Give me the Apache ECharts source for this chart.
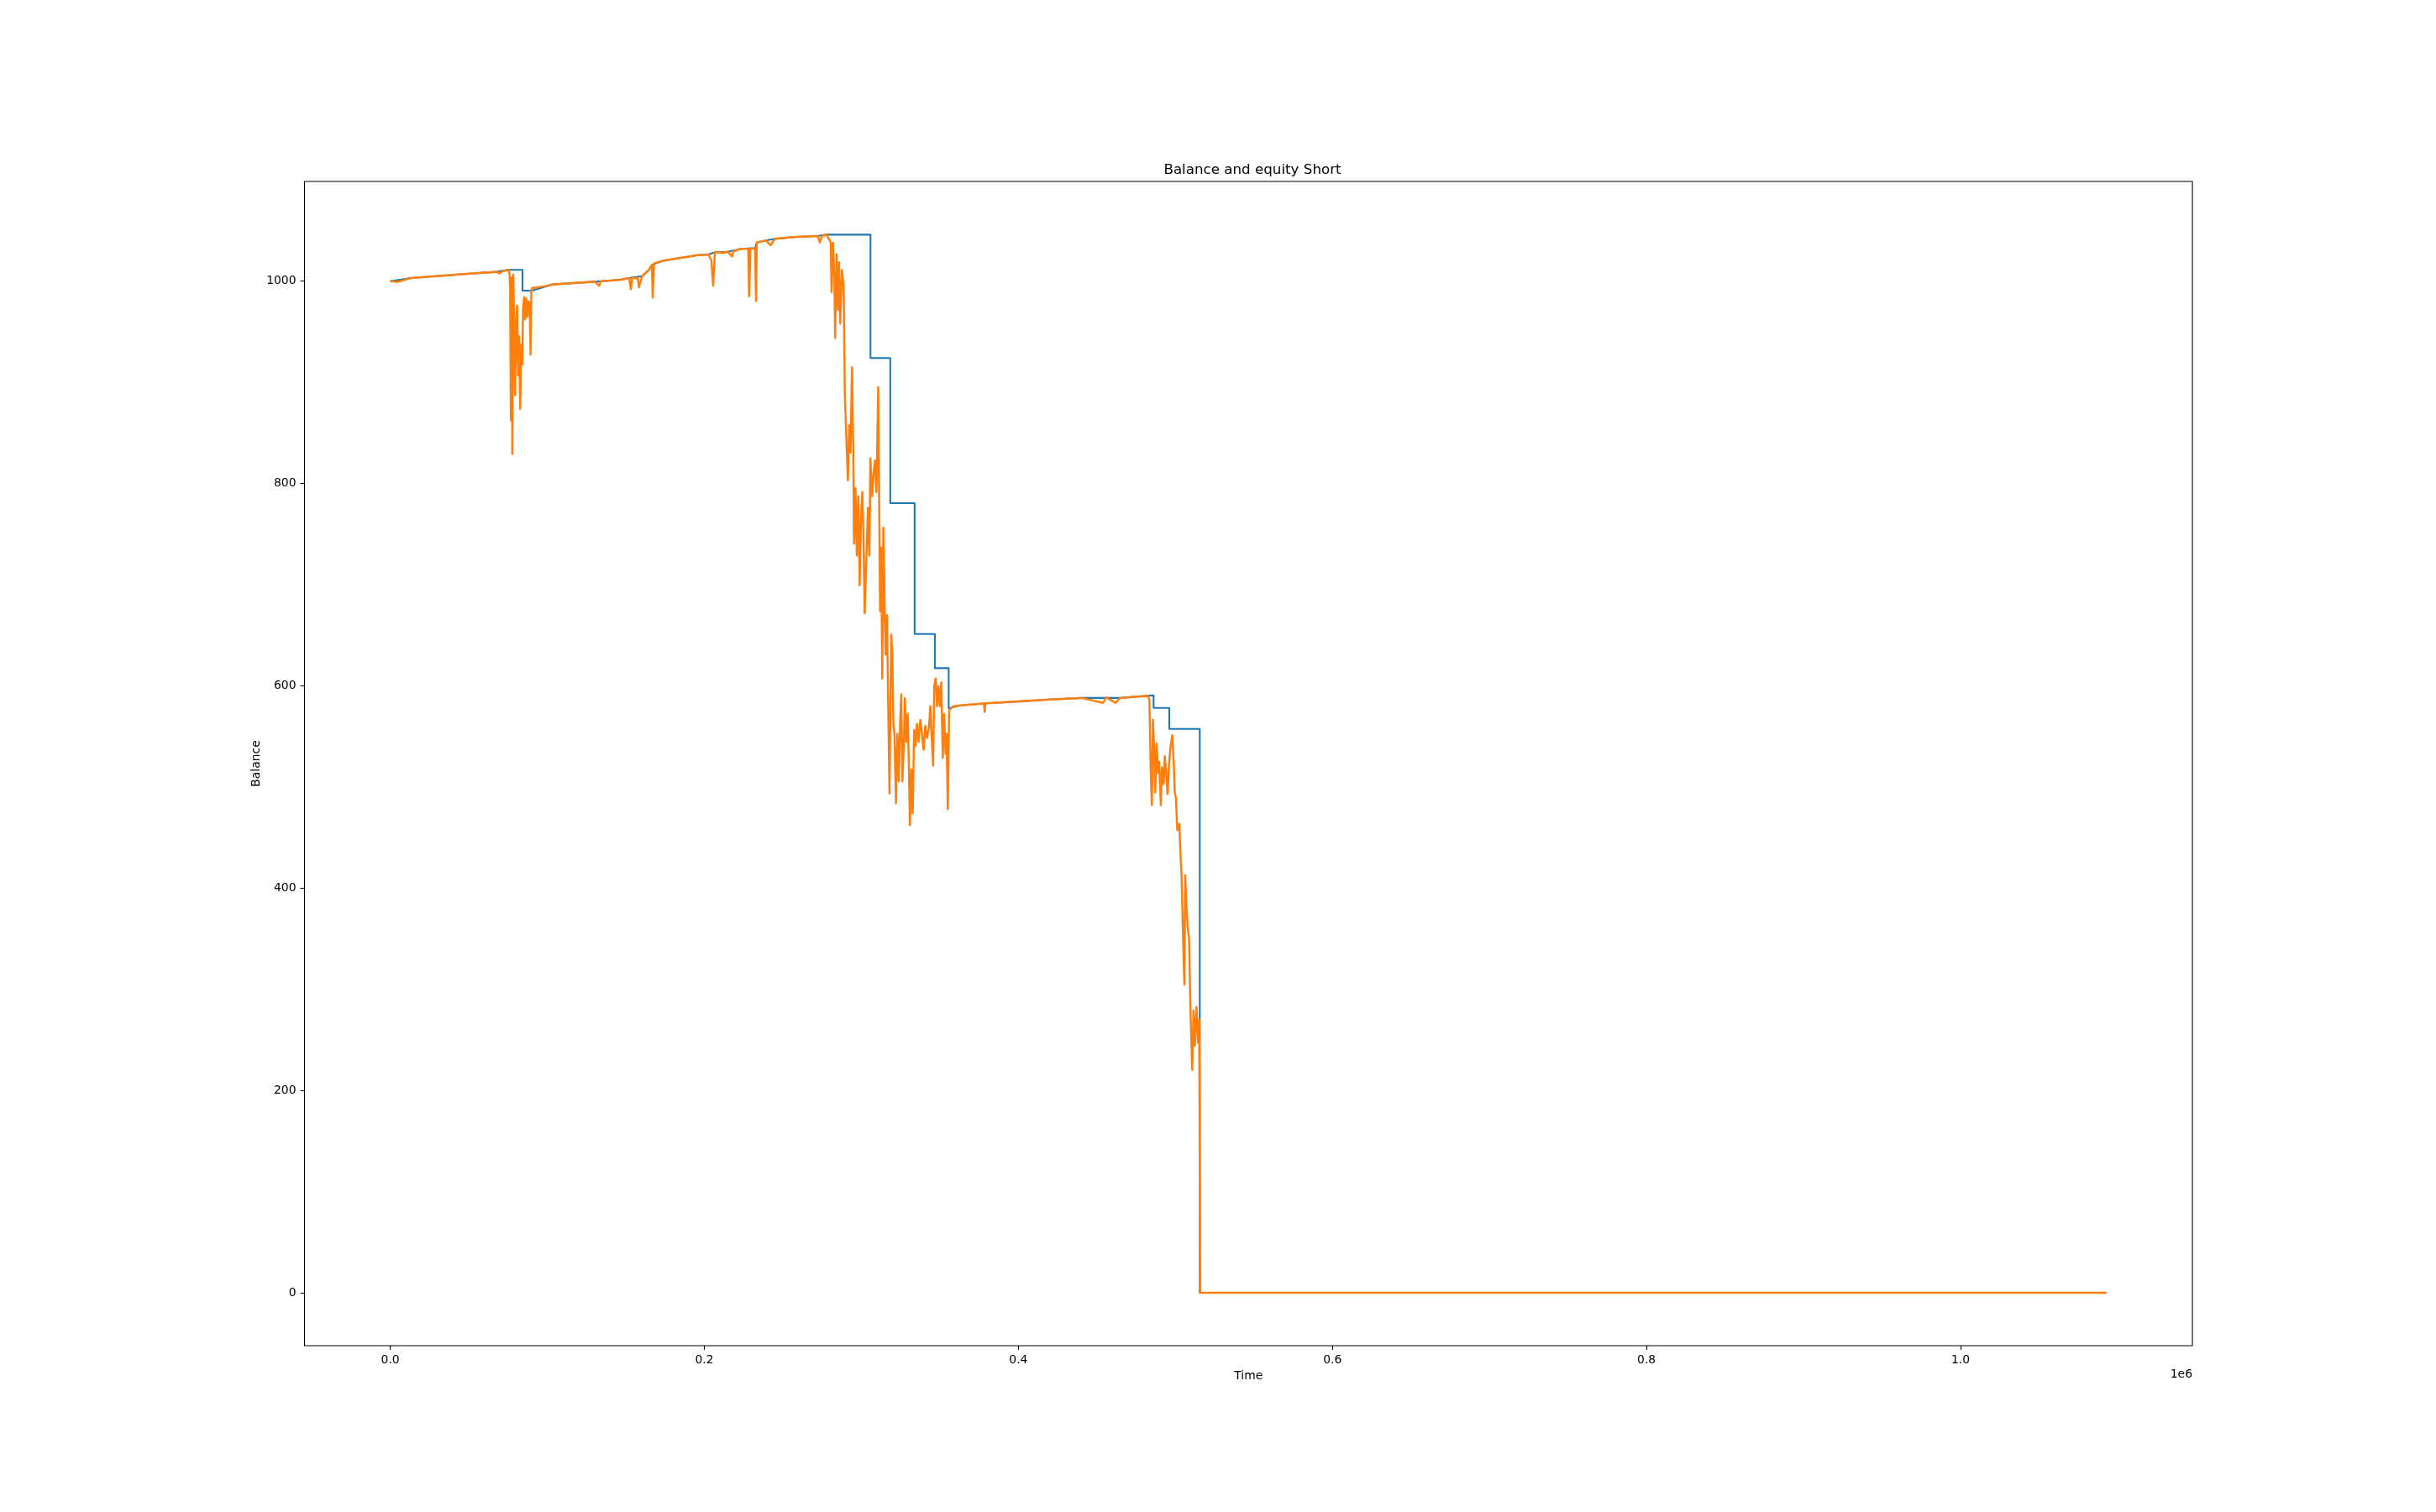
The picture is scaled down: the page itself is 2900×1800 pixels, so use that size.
<!DOCTYPE html>
<html>
<head>
<meta charset="utf-8">
<script src="https://cdn.jsdelivr.net/npm/echarts@6/dist/echarts.min.js"></script>
<style>
html,body{margin:0;padding:0;background:#fff;}
#chart{width:2900px;height:1800px;}
</style>
</head>
<body>
<div id="chart"></div>
<script>
// ---- data ----
const titleText = "Balance and equity Short";
const xAxisName = "Time";
const yAxisName = "Balance";
const xOffsetText = "1e6";
const xTickValues = [0, 200000, 400000, 600000, 800000, 1000000];
const yTickValues = [0, 200, 400, 600, 800, 1000];

const balanceTime = [0, 12900, 34700, 53800, 67000, 75000, 84200, 84200, 90200, 103600, 130300, 146600, 152100, 160300, 164400, 166600, 174000, 184900, 195800, 202600, 206700, 214900, 223100, 232300, 233400, 239400, 244900, 258600, 272200, 277700, 305800, 305800, 318400, 318400, 333900, 333900, 346800, 346800, 355600, 355600, 363000, 378000, 400000, 420000, 440000, 464700, 473600, 486100, 486100, 496100, 496100, 515500, 515500, 1093000];
const balanceValue = [1000, 1003.1, 1005.6, 1007.8, 1009.2, 1011.2, 1011.2, 990.7, 990.7, 996.8, 999.5, 1001.5, 1003.1, 1005.0, 1010.6, 1016.1, 1020.3, 1023.1, 1025.8, 1026.4, 1028.6, 1029.1, 1031.9, 1032.7, 1038.3, 1040.2, 1041.9, 1043.8, 1044.6, 1046.0, 1046.0, 924.0, 924.0, 780.6, 780.6, 651.2, 651.2, 617.5, 617.5, 577.8, 580.7, 582.5, 584.5, 586.5, 588.0, 588.0, 589.1, 590.5, 578.2, 578.2, 557.4, 557.4, 0, 0];

const equityTime = [0, 4700, 12900, 34700, 53800, 67000, 69700, 71500, 75000, 75900, 76300, 76800, 77400, 77700, 78300, 79000, 79500, 80000, 80800, 81300, 82000, 82700, 83400, 84100, 84500, 85200, 85900, 86600, 87300, 88100, 88800, 89300, 89800, 90200, 93800, 98200, 103600, 108400, 130300, 133000, 134000, 146600, 152100, 153200, 154000, 157600, 158400, 160300, 164400, 166600, 167100, 167900, 174000, 184900, 195800, 202600, 204500, 205600, 206700, 212100, 214900, 217600, 218500, 223100, 228000, 228500, 229300, 232300, 232900, 233400, 239400, 242200, 244900, 258600, 272200, 273600, 274900, 277700, 279200, 280500, 281000, 281900, 282800, 283300, 284200, 285100, 285800, 286500, 287600, 288700, 289500, 290500, 291400, 292300, 293100, 294000, 294800, 295300, 296200, 297100, 298000, 298900, 299700, 300600, 301500, 302100, 303000, 304200, 305100, 305700, 306900, 307800, 308700, 309600, 310700, 311400, 311900, 312600, 313300, 314000, 314700, 315400, 316300, 317000, 317900, 319000, 319700, 320400, 321100, 322000, 322900, 323800, 324700, 325400, 326100, 327000, 327700, 328600, 329500, 330300, 330900, 331800, 332700, 333600, 334500, 335400, 336400, 337500, 338600, 339600, 340700, 341800, 343000, 343900, 344800, 345700, 346400, 347300, 348200, 349100, 350000, 350900, 351800, 352700, 353600, 354300, 355000, 355900, 358600, 363000, 378000, 378500, 379000, 400000, 420000, 440000, 454000, 455800, 462000, 464700, 473600, 482500, 483400, 483900, 484300, 485000, 485700, 486400, 487100, 488000, 488900, 489600, 490700, 491400, 492500, 493200, 494100, 495000, 495900, 496800, 498000, 498900, 499600, 500300, 501200, 502500, 503000, 503900, 504800, 505700, 506200, 506900, 507800, 508700, 509300, 509800, 510700, 511500, 512400, 513400, 514400, 515100, 515400, 515600, 515800, 1093000];
const equityValue = [1000, 999.3, 1003.1, 1005.6, 1007.8, 1009.2, 1007.9, 1009.8, 1011.4, 1007.9, 992.6, 862.6, 1003.7, 829.4, 1006.5, 945.6, 887.5, 959.4, 976.0, 906.9, 945.6, 873.7, 937.3, 917.9, 973.3, 984.3, 962.2, 983.0, 965.0, 980.2, 973.3, 927.6, 989.9, 993.2, 994.0, 994.9, 996.8, 997.3, 999.5, 995.4, 999.8, 1001.5, 1003.1, 992.1, 1003.1, 1003.1, 994.0, 1005.0, 1010.6, 1016.1, 983.8, 1017.5, 1020.3, 1023.1, 1025.8, 1026.4, 1020.3, 995.4, 1028.6, 1028.0, 1029.1, 1024.4, 1029.5, 1031.9, 1031.9, 985.1, 1031.9, 1032.7, 980.7, 1038.3, 1040.2, 1035.5, 1041.9, 1043.8, 1044.6, 1038.3, 1044.6, 1046.3, 1042.0, 1038.0, 989.3, 1038.0, 1003.0, 944.0, 1026.5, 971.7, 1018.7, 958.0, 1010.9, 995.2, 885.5, 842.4, 803.2, 858.1, 830.6, 914.9, 838.5, 740.5, 795.4, 728.8, 787.5, 699.4, 764.0, 791.5, 732.7, 671.9, 717.0, 775.8, 728.8, 824.8, 787.5, 811.0, 822.8, 791.5, 895.3, 769.9, 673.9, 736.6, 607.3, 756.2, 685.7, 630.8, 670.0, 591.6, 493.7, 650.4, 630.8, 560.3, 552.5, 483.9, 552.5, 505.5, 564.2, 591.6, 505.5, 540.7, 587.7, 544.6, 572.1, 517.2, 462.3, 517.2, 474.1, 556.4, 540.7, 562.3, 544.6, 566.2, 552.5, 536.8, 560.3, 548.5, 558.3, 579.9, 548.5, 521.1, 599.5, 607.3, 579.9, 599.5, 579.9, 603.4, 528.9, 572.1, 532.9, 552.5, 478.0, 576.0, 579.9, 580.7, 582.5, 574.2, 582.8, 584.5, 586.5, 588.0, 583.1, 588.6, 583.1, 588.0, 589.1, 590.0, 585.8, 547.1, 513.9, 482.1, 566.5, 538.8, 494.5, 543.0, 513.9, 525.0, 482.1, 519.4, 502.8, 530.5, 513.9, 493.1, 522.2, 538.8, 551.2, 525.0, 494.5, 489.0, 457.2, 463.6, 441.3, 412.8, 355.6, 304.7, 412.8, 384.2, 361.9, 349.2, 298.4, 266.6, 220.5, 279.3, 244.4, 282.5, 247.5, 269.8, 171.3, 50.6, 0, 0];

// ---- chart ----
const FONT = "DejaVu Sans";
const balanceData = balanceTime.map((t, i) => [t, balanceValue[i]]);
const equityData = equityTime.map((t, i) => [t, equityValue[i]]);

const chart = echarts.init(document.getElementById('chart'), null, {renderer: 'canvas'});
chart.setOption({
  animation: false,
  backgroundColor: '#ffffff',
  title: {
    text: titleText,
    left: 1486,
    textAlign: 'center',
    top: 189,
    textStyle: {fontFamily: FONT, fontSize: 16.7, fontWeight: 'normal', color: '#000'}
  },
  grid: {
    left: 362.5, right: 290, top: 216, bottom: 198,
    show: true, borderColor: '#000', borderWidth: 1.1, backgroundColor: 'transparent'
  },
  xAxis: {
    type: 'value',
    position: 'bottom',
    min: -54650,
    max: 1147650,
    name: xAxisName,
    nameLocation: 'middle',
    nameGap: 29,
    nameTextStyle: {fontFamily: FONT, fontSize: 13.9, color: '#000', verticalAlign: 'top'},
    splitLine: {show: false},
    axisLine: {show: false, onZero: false},
    axisTick: {show: true, inside: false, length: 4.9, lineStyle: {color: '#000', width: 1.1}, customValues: xTickValues},
    axisLabel: {
      show: true, margin: 10, color: '#000', fontFamily: FONT, fontSize: 13.9,
      customValues: xTickValues,
      formatter: v => (v / 1e6).toFixed(1)
    }
  },
  yAxis: {
    type: 'value',
    position: 'left',
    min: -52.3,
    max: 1098.6,
    name: yAxisName,
    nameLocation: 'middle',
    nameRotate: 90,
    nameGap: 50,
    nameMoveOverlap: false,
    nameTextStyle: {fontFamily: FONT, fontSize: 13.9, color: '#000'},
    splitLine: {show: false},
    axisLine: {show: false, onZero: false},
    axisTick: {show: true, inside: false, length: 4.9, lineStyle: {color: '#000', width: 1.1}, customValues: yTickValues},
    axisLabel: {
      show: true, margin: 10, color: '#000', fontFamily: FONT, fontSize: 13.9,
      customValues: yTickValues,
      formatter: v => String(v)
    }
  },
  graphic: [{
    type: 'text',
    right: 290,
    top: 1629,
    style: {text: xOffsetText, fontFamily: FONT, fontSize: 13.9, fill: '#000', textAlign: 'right'}
  }],
  series: [
    {
      name: 'Balance',
      type: 'line',
      data: balanceData,
      showSymbol: false,
      symbol: 'none',
      clip: true,
      z: 2,
      lineStyle: {color: '#1f77b4', width: 2.08, join: 'round'}
    },
    {
      name: 'Equity',
      type: 'line',
      data: equityData,
      showSymbol: false,
      symbol: 'none',
      clip: true,
      z: 3,
      lineStyle: {color: '#ff7f0e', width: 2.5, join: 'round'}
    }
  ]
});
</script>
</body>
</html>
